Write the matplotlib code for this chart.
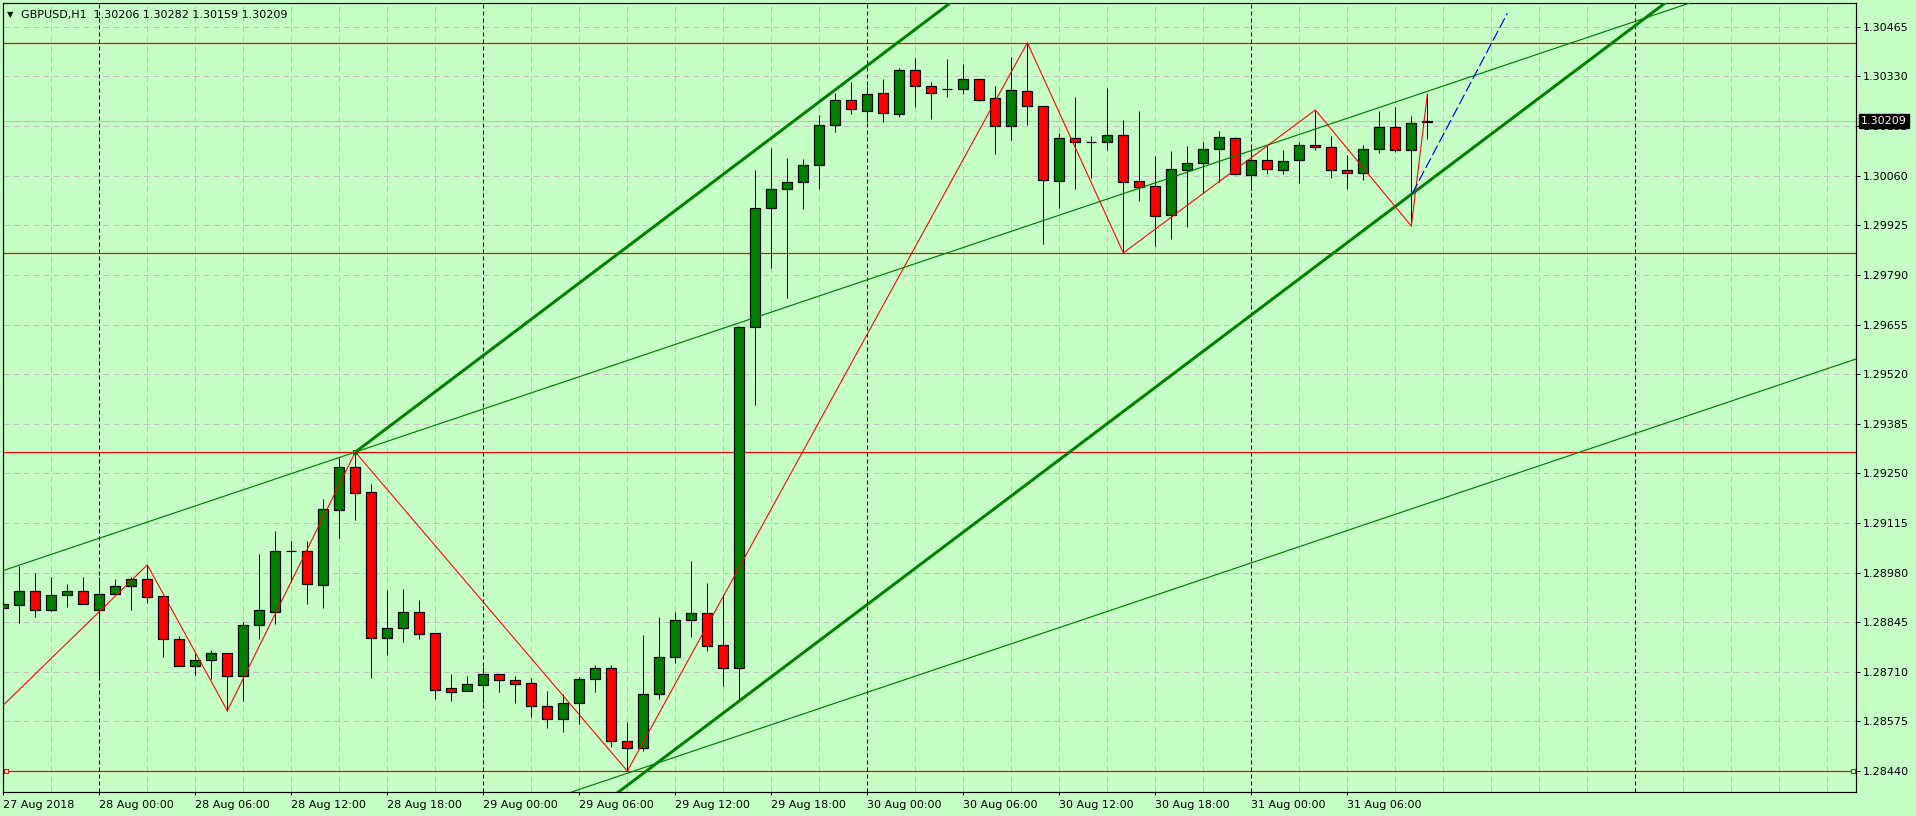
import numpy as np
import matplotlib
matplotlib.use("Agg")
import matplotlib.pyplot as plt

# GBPUSD H1 candles, first bar = 27 Aug 2018 18:00 (bar index -6, 28 Aug 00:00 = 0)
first_bar = -6
opens = [1.28883, 1.28891, 1.28929, 1.28877, 1.28918, 1.28929, 1.28877, 1.28921, 1.28943, 1.28962,
         1.28916, 1.28799, 1.28725, 1.28741, 1.28760, 1.28698, 1.28837, 1.28874, 1.29038, 1.29038,
         1.28945, 1.29150, 1.29267, 1.29199, 1.28801, 1.28828, 1.28872, 1.28815, 1.28666, 1.28659,
         1.28675, 1.28703, 1.28689, 1.28679, 1.28616, 1.28583, 1.28624, 1.28690, 1.28720, 1.28521,
         1.28502, 1.28650, 1.28749, 1.28852, 1.28870, 1.28782, 1.28721, 1.29649, 1.29971, 1.30023,
         1.30042, 1.30088, 1.30199, 1.30266, 1.30236, 1.30285, 1.30227, 1.30347, 1.30304, 1.30295,
         1.30295, 1.30323, 1.30271, 1.30195, 1.30290, 1.30249, 1.30045, 1.30162, 1.30151, 1.30151,
         1.30170, 1.30045, 1.30031, 1.29952, 1.30075, 1.30094, 1.30132, 1.30162, 1.30061, 1.30102,
         1.30075, 1.30102, 1.30143, 1.30138, 1.30075, 1.30067, 1.30132, 1.30192, 1.30129, 1.30206]
highs = [1.28922, 1.28998, 1.28978, 1.28968, 1.28949, 1.28968, 1.28968, 1.28962, 1.28968, 1.29001,
         1.28917, 1.28807, 1.28760, 1.28769, 1.28761, 1.28846, 1.29031, 1.29093, 1.29066, 1.29066,
         1.29180, 1.29291, 1.29308, 1.29221, 1.28933, 1.28935, 1.28905, 1.28816, 1.28704, 1.28699,
         1.28723, 1.28704, 1.28699, 1.28693, 1.28658, 1.28649, 1.28697, 1.28729, 1.28729, 1.28573,
         1.28809, 1.28858, 1.28872, 1.29011, 1.28951, 1.28922, 1.29650, 1.30076, 1.30136, 1.30107,
         1.30105, 1.30226, 1.30285, 1.30316, 1.30303, 1.30323, 1.30353, 1.30381, 1.30315, 1.30378,
         1.30364, 1.30324, 1.30303, 1.30383, 1.30422, 1.30250, 1.30176, 1.30275, 1.30169, 1.30299,
         1.30212, 1.30236, 1.30114, 1.30128, 1.30140, 1.30152, 1.30181, 1.30166, 1.30140, 1.30140,
         1.30129, 1.30151, 1.30239, 1.30168, 1.30116, 1.30143, 1.30236, 1.30247, 1.30222, 1.30282]
lows = [1.28797, 1.28844, 1.28858, 1.28876, 1.28887, 1.28894, 1.28699, 1.28921, 1.28877, 1.28897,
        1.28751, 1.28725, 1.28701, 1.28691, 1.28604, 1.28631, 1.28799, 1.28839, 1.28955, 1.28895,
        1.28884, 1.29075, 1.29124, 1.28694, 1.28756, 1.28792, 1.28799, 1.28636, 1.28631, 1.28658,
        1.28626, 1.28655, 1.28626, 1.28588, 1.28558, 1.28547, 1.28567, 1.28656, 1.28506, 1.28440,
        1.28495, 1.28637, 1.28735, 1.28804, 1.28767, 1.28672, 1.28635, 1.29437, 1.29809, 1.29728,
        1.29970, 1.30023, 1.30179, 1.30228, 1.30207, 1.30205, 1.30221, 1.30248, 1.30215, 1.30273,
        1.30283, 1.30264, 1.30120, 1.30158, 1.30199, 1.29875, 1.29973, 1.30025, 1.30055, 1.30131,
        1.29850, 1.29990, 1.29870, 1.29889, 1.29921, 1.30012, 1.30043, 1.30061, 1.30021, 1.30064,
        1.30064, 1.30041, 1.30129, 1.30053, 1.30025, 1.30048, 1.30121, 1.30124, 1.29923, 1.30159]
closes = [1.28894, 1.28929, 1.28877, 1.28918, 1.28929, 1.28894, 1.28921, 1.28943, 1.28962, 1.28913,
          1.28799, 1.28725, 1.28741, 1.28760, 1.28698, 1.28837, 1.28877, 1.29038, 1.29040, 1.28948,
          1.29152, 1.29267, 1.29196, 1.28803, 1.28828, 1.28872, 1.28814, 1.28661, 1.28656, 1.28676,
          1.28703, 1.28688, 1.28678, 1.28616, 1.28581, 1.28624, 1.28690, 1.28720, 1.28521, 1.28502,
          1.28651, 1.28749, 1.28852, 1.28870, 1.28781, 1.28721, 1.29649, 1.29972, 1.30024, 1.30043,
          1.30089, 1.30198, 1.30266, 1.30241, 1.30282, 1.30230, 1.30347, 1.30304, 1.30285, 1.30295,
          1.30323, 1.30267, 1.30195, 1.30293, 1.30249, 1.30048, 1.30162, 1.30151, 1.30151, 1.30170,
          1.30042, 1.30030, 1.29950, 1.30078, 1.30094, 1.30132, 1.30165, 1.30064, 1.30102, 1.30078,
          1.30100, 1.30143, 1.30138, 1.30075, 1.30067, 1.30132, 1.30192, 1.30129, 1.30203, 1.30209]

# axis ticks
price_ticks = [1.28440, 1.28575, 1.28710, 1.28845, 1.28980, 1.29115, 1.29250, 1.29385,
               1.29520, 1.29655, 1.29790, 1.29925, 1.30060, 1.30195, 1.30330, 1.30465]
time_ticks = [-6, 0, 6, 12, 18, 24, 30, 36, 42, 48, 54, 60, 66, 72, 78]
time_labels = ["27 Aug 2018", "28 Aug 00:00", "28 Aug 06:00", "28 Aug 12:00", "28 Aug 18:00",
               "29 Aug 00:00", "29 Aug 06:00", "29 Aug 12:00", "29 Aug 18:00", "30 Aug 00:00",
               "30 Aug 06:00", "30 Aug 12:00", "30 Aug 18:00", "31 Aug 00:00", "31 Aug 06:00"]
day_separators = [0, 24, 48, 72, 96]

# objects drawn on the chart
h_levels = [1.30422, 1.29850, 1.29308, 1.28440]
last_price = 1.30209
zigzag_bars = [-10, 3, 8, 16, 33, 58, 64, 76, 82, 83]
zigzag_prices = [1.28450, 1.29001, 1.28604, 1.29308, 1.28440, 1.30422, 1.29850, 1.30239, 1.29923, 1.30282]
# (bar1, price1, bar2, price2, draw_from, draw_to)
thick_lines = [(16, 1.29308, 53.36, 1.30536, 16, 120),
               (35.04, 1.28468, 80.04, 1.29945, 16, 120)]
thin_lines = [(16, 1.29308, 99.54, 1.30532, -8, 120),
              (35.04, 1.28464, 109.5, 1.29557, 16, 120)]
blue_bars = [82.06, 88.0]
blue_prices = [1.30012, 1.30502]

BG = "#c6ffc6"
GREEN = "#008000"
W, H, DPI = 1916, 816, 100
PX = 72.0 / DPI  # one pixel in points

plt.rcParams['font.family'] = ['DejaVu Sans']

fig = plt.figure(figsize=(W / DPI, H / DPI), dpi=DPI, facecolor=BG)
ax = fig.add_axes([3 / W, 24 / H, 1853 / W, 789 / H], facecolor=BG)

x = np.arange(len(opens)) + first_bar
o = np.array(opens)
c = np.array(closes)

# grid
for p in price_ticks:
    ax.axhline(p, color="#c0c0c0", lw=PX, dashes=(6, 4), zorder=0.5)
for g in range(-6, 112, 3):
    if g in day_separators:
        continue
    ax.axvline(g, color="#c0c0c0", lw=PX, dashes=(6, 4), zorder=0.5)
for d in day_separators:
    ax.axvline(d, color="black", lw=PX, dashes=(4, 3), zorder=0.6)

ax.axhline(last_price, color="#c0c0c0", lw=1.2 * PX, zorder=0.7)

# candles
ax.vlines(x, lows, highs, color="black", lw=PX, zorder=2)
up = c >= o
body_w = 0.62
ax.bar(x[up], np.maximum(c[up] - o[up], 1e-7), bottom=o[up], width=body_w,
       color=GREEN, edgecolor="black", linewidth=1.2 * PX, zorder=3)
ax.bar(x[~up], np.maximum(o[~up] - c[~up], 1e-7), bottom=c[~up], width=body_w,
       color="red", edgecolor="black", linewidth=1.2 * PX, zorder=3)

# horizontal levels
for lv in h_levels:
    ax.axhline(lv, color="red", lw=1.2 * PX, zorder=1)

def ray(b1, p1, b2, p2, start, end):
    k = (p2 - p1) / (b2 - b1)
    xs = np.array([start, end])
    return xs, p1 + k * (xs - b1)

for ln in thick_lines:
    xs, ys = ray(*ln)
    ax.plot(xs, ys, color=GREEN, lw=3 * PX, zorder=4, solid_capstyle="butt")
for ln in thin_lines:
    xs, ys = ray(*ln)
    ax.plot(xs, ys, color=GREEN, lw=1.2 * PX, zorder=4)

ax.plot(zigzag_bars, zigzag_prices, color="red", lw=1.1 * PX, zorder=5)
ax.plot(blue_bars, blue_prices, color="blue", lw=1.2 * PX, dashes=(9, 3), zorder=5)

# small object markers
ax.plot([16], [1.29308], marker="s", ms=4 * PX, mfc="none", mec=GREEN, mew=PX, zorder=6)
ax.plot([-5.85, 109.6], [1.28440, 1.28440], ls="none", marker="s", ms=4.5 * PX,
        mfc=BG, mec="red", mew=PX, zorder=6, clip_on=False)

ax.set_xlim(-6.02, 109.79)
ax.set_ylim(1.28383, 1.30530)

# axes styling
for s in ax.spines.values():
    s.set_color("black")
    s.set_linewidth(1.2 * PX)

ax.yaxis.tick_right()
ax.set_yticks(price_ticks)
ax.set_yticklabels([f"{p:.5f}" for p in price_ticks])
ax.tick_params(axis="y", direction="out", length=4 * PX, width=PX, pad=3 * PX,
               labelsize=8, colors="black")
ax.set_xticks(time_ticks)
ax.set_xticklabels(time_labels)
for lab in ax.get_xticklabels():
    lab.set_ha("left")
ax.tick_params(axis="x", direction="out", length=3 * PX, width=PX, pad=5 * PX,
               labelsize=8, colors="black")

# last price box on the price scale
ax.text(1.0 + 5 / 1853, last_price, f"{last_price:.5f}", transform=ax.get_yaxis_transform(),
        ha="left", va="center", fontsize=8, color="white", zorder=10, clip_on=False,
        bbox=dict(boxstyle="square,pad=0.2", fc="black", ec="black"))

# title line
fig.text(7 / W, 1 - 15 / H, "\u25bc", fontsize=6, va="center", ha="left", color="black")
fig.text(21 / W, 1 - 15 / H, "GBPUSD,H1  1.30206 1.30282 1.30159 1.30209",
         fontsize=8, va="center", ha="left", color="black")

fig.savefig("out.png", dpi=DPI, facecolor=BG)
